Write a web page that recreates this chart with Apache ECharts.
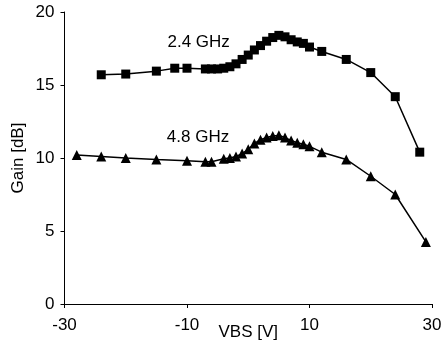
<!DOCTYPE html>
<html><head><meta charset="utf-8">
<script src="https://cdn.jsdelivr.net/npm/echarts@6/dist/echarts.min.js"></script>
<style>html,body{margin:0;padding:0;background:#fff}#c{width:441px;height:351px}</style>
</head><body><div id="c"></div>
<script>
const vbs24 = [-24,-20,-15,-12,-10,-7,-6,-5,-4,-3,-2,-1,0,1,2,3,4,5,6,7,8,9,10,12,16,20,24,28];
const gain24 = [15.7,15.75,15.95,16.15,16.15,16.1,16.1,16.1,16.15,16.25,16.45,16.75,17.05,17.4,17.7,18.0,18.25,18.4,18.3,18.1,17.95,17.85,17.6,17.3,16.75,15.85,14.2,10.4];
const vbs48 = [-28,-24,-20,-15,-10,-7,-6,-4,-3,-2,-1,0,1,2,3,4,5,6,7,8,9,10,12,16,20,24,29];
const gain48 = [10.2,10.1,10.0,9.9,9.82,9.75,9.75,9.95,10.0,10.1,10.3,10.6,11.0,11.25,11.4,11.5,11.55,11.4,11.2,11.05,10.95,10.8,10.4,9.9,8.75,7.5,4.25];
const seriesNames = ['2.4 GHz','4.8 GHz'];
const labelPos = [[-8.1,17.9],[-8.2,11.45]];

function pairs(xs, ys){ const o=[]; for(let i=0;i<xs.length;i++) o.push([xs[i],ys[i]]); return o; }

const font = 'Liberation Sans, Arial, sans-serif';
const fs = 17;
function note(i){
  return {symbol:'circle', symbolSize:1, itemStyle:{color:'rgba(0,0,0,0)'}, silent:true,
    data:[{coord:labelPos[i], label:{show:true, position:'inside', formatter:seriesNames[i], color:'#000', fontSize:fs, fontFamily:font}}]};
}
const chart = echarts.init(document.getElementById('c'));
chart.setOption({
  animation:false,
  grid:{left:64.5, right:9, top:12, bottom:47, containLabel:false, outerBoundsMode:'none'},
  xAxis:{type:'value', min:-30, max:30, interval:20,
    name:'VBS [V]', nameLocation:'middle', nameGap:20, nameMoveOverlap:false,
    nameTextStyle:{color:'#000', fontSize:fs, fontFamily:font},
    axisLine:{onZero:false, lineStyle:{color:'#000', width:1}},
    axisTick:{show:true, length:4, lineStyle:{color:'#000'}},
    axisLabel:{color:'#000', fontSize:fs, fontFamily:font, margin:13, showMaxLabel:true, showMinLabel:true},
    splitLine:{show:false}},
  yAxis:{type:'value', min:0, max:20, interval:5,
    name:'Gain [dB]', nameLocation:'middle', nameGap:38, nameMoveOverlap:false,
    nameTextStyle:{color:'#000', fontSize:fs, fontFamily:font},
    axisLine:{show:true, onZero:false, lineStyle:{color:'#000', width:1}},
    axisTick:{show:true, length:4, lineStyle:{color:'#000'}},
    axisLabel:{color:'#000', fontSize:fs, fontFamily:font, margin:10},
    splitLine:{show:false}},
  series:[
    {name:seriesNames[0], type:'line', data:pairs(vbs24, gain24), symbol:'rect', symbolSize:9,
     itemStyle:{color:'#000'}, lineStyle:{color:'#000', width:1.5}, markPoint:note(0)},
    {name:seriesNames[1], type:'line', data:pairs(vbs48, gain48), symbol:'triangle', symbolSize:10,
     itemStyle:{color:'#000'}, lineStyle:{color:'#000', width:1.5}, markPoint:note(1)}
  ]
});
</script></body></html>
